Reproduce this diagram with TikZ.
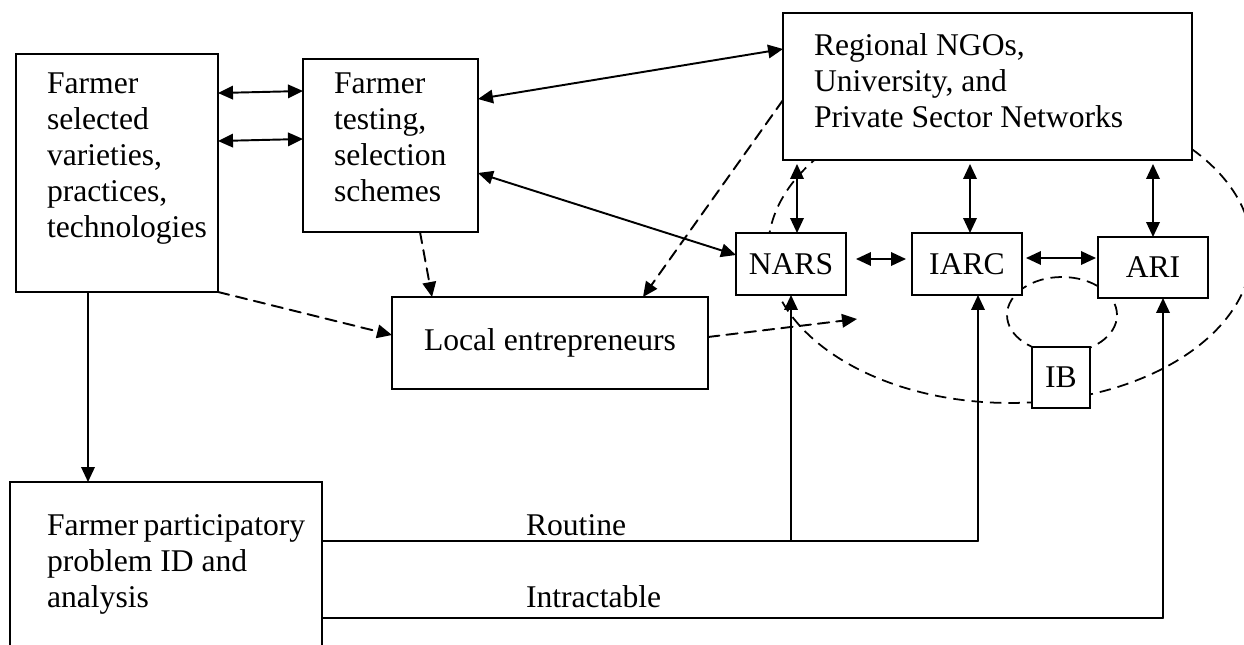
\documentclass[tikz,border=0pt]{standalone}
\usepackage{fontspec}
\setmainfont{Liberation Serif}
\usetikzlibrary{arrows.meta}
\hyphenpenalty=10000
\exhyphenpenalty=10000
\tikzset{
  base/.style={font=\fontsize{18pt}{20.6pt}\selectfont, inner sep=0pt, outer sep=0mm},
  box/.style={rectangle, draw=black, line width=1.1pt, fill=white, align=center, base},
  textbox/.style={box, align=flush left},
  line/.style={line width=1.1pt, line cap=round},
  arrow/.style={-{Triangle[length=3mm, width=2.7mm]}, line},
  dblarrow/.style={{Triangle[length=3mm, width=2.7mm]}-{Triangle[length=3mm, width=2.7mm]}, line},
  dasharrow/.style={arrow, dash pattern=on 6.5pt off 4pt},
  ring/.style={line width=1pt, dash pattern=on 6.5pt off 4pt}
}

\begin{document}
\begin{tikzpicture}[x=0.02cm, y=-0.02cm]
  \useasboundingbox (0,0) rectangle (1244,645);
  \clip (0,0) rectangle (1244,645);

  % rings behind the boxes
  \draw[ring] (1010,250) ellipse [x radius=48.4mm, y radius=30.6mm];
  \draw[ring] (1062,315) ellipse [x radius=11mm, y radius=7.6mm];

  \node[textbox, text width=28mm, inner xsep=6.2mm, text height=7.8mm, text depth=39.8mm] (sel) at (117,173) {Farmer\\selected\\varieties,\\practices,\\technologies};
  \node[textbox, text width=22.6mm, inner xsep=6.2mm, text height=6.8mm, text depth=27.8mm] (test) at (390.5,145.5) {Farmer\\testing,\\selection\\schemes};
  \node[textbox, text width=69.4mm, inner xsep=6.2mm, text height=8.4mm, text depth=21mm] (reg) at (987.5,86.5) {Regional NGOs,\\University, and\\Private Sector Networks};
  \node[box, minimum width=22mm, minimum height=12.4mm] (nars) at (791,264) {NARS};
  \node[box, minimum width=22mm, minimum height=12.4mm] (iarc) at (967,264) {IARC};
  \node[box, minimum width=22mm, minimum height=12.2mm] (ari) at (1153,267.5) {ARI};
  \node[box, minimum width=11.6mm, minimum height=12.2mm] (ib) at (1061,377.5) {IB};
  \node[box, minimum width=63.2mm, minimum height=18.4mm] (local) at (550,343) {Local entrepreneurs};
  \node[textbox, text width=47.6mm, inner xsep=7.4mm, text height=10.6mm, text depth=25mm] (part) at (166,571) {Farmer~participatory\\problem ID and\\analysis};

  \node[base, anchor=base west] (routine) at (526,535) {Routine};
  \node[base, anchor=base west] (intract) at (526,607) {Intractable};

  \draw[dblarrow] ([yshift=-7.8mm]sel.north east) -- ([yshift=-6.4mm]test.north west);
  \draw[dblarrow] ([yshift=-17.4mm]sel.north east) -- ([yshift=-16mm]test.north west);
  \draw[dblarrow] ([yshift=-8mm]test.north east) -- ([yshift=-7.2mm]reg.north west);
  \draw[dblarrow] ([yshift=-22.8mm]test.north east) -- ([yshift=-4.4mm]nars.north west);

  \draw[dblarrow, shorten >=0.8mm] ([xshift=1.2mm]nars.north) -- ([xshift=1.2mm]nars.north |- reg.south);
  \draw[dblarrow, shorten >=0.8mm] ([xshift=0.6mm]iarc.north) -- ([xshift=0.6mm]iarc.north |- reg.south);
  \draw[dblarrow, shorten >=0.8mm] (ari.north) -- (ari.north |- reg.south);
  \draw[dblarrow, shorten <=2mm, shorten >=1.2mm] ([yshift=1mm]nars.east) -- ([yshift=1mm]iarc.west);
  \draw[dblarrow, shorten <=0.8mm, shorten >=0.4mm] ([yshift=1.2mm]iarc.east) -- ([yshift=1.2mm]iarc.east -| ari.west);

  \draw[dasharrow] ([xshift=5.9mm]test.south) -- ([xshift=8mm]local.north west);
  \draw[dasharrow] ([yshift=-17.4mm]reg.north west) -- ([xshift=50.2mm]local.north west);
  \draw[dasharrow] (sel.south east) -- ([yshift=-7.6mm]local.north west);
  \coordinate (loose) at (857,319);
  \draw[dasharrow] ([yshift=1.2mm]local.east) -- (loose);

  \draw[arrow] ([xshift=-5.8mm]sel.south) -- ([xshift=-5.8mm]sel.south |- part.north);

  \coordinate (routeEnd) at (978,541);
  \draw[line] ([yshift=-11.8mm]part.north east) -- (routeEnd);
  \draw[arrow] (nars.south |- routeEnd) -- (nars.south);
  \draw[arrow] (routeEnd) -- (routeEnd |- iarc.south);

  \coordinate (hardEnd) at (1163,618);
  \draw[line] ([yshift=-27.2mm]part.north east) -- (hardEnd);
  \draw[arrow] (hardEnd) -- (hardEnd |- ari.south);
\end{tikzpicture}
\end{document}
